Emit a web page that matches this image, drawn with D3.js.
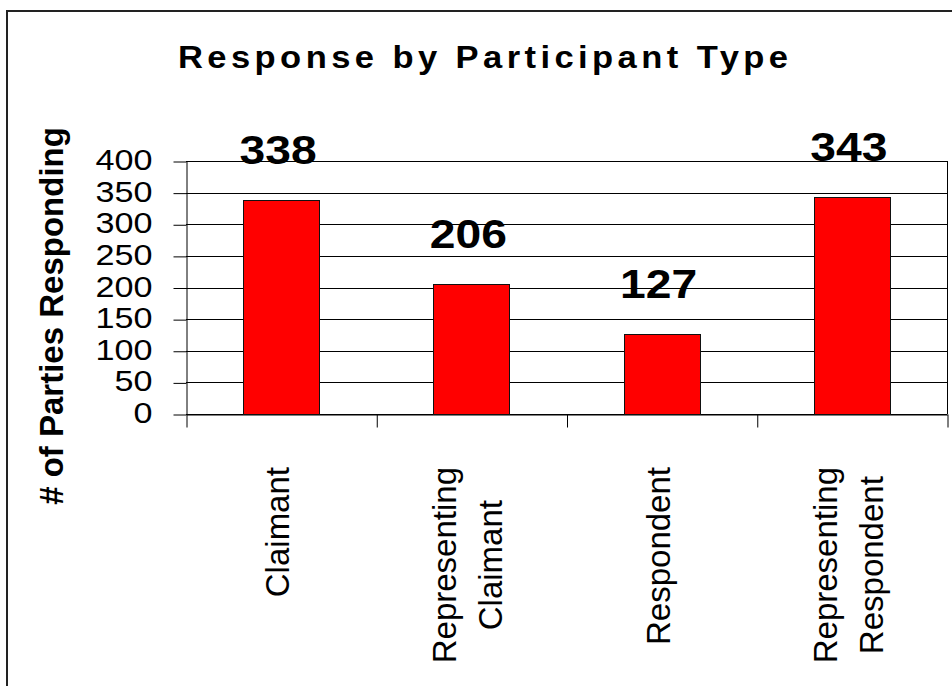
<!DOCTYPE html>
<html>
<head>
<meta charset="utf-8">
<script src="https://cdn.jsdelivr.net/npm/d3@7"></script>
<style>
  body { margin: 0; background: #fff; }
  text { font-family: "Liberation Sans", Arial, sans-serif; fill: #000; }
</style>
</head>
<body>
<div id="chart"></div>
<script>
// data
const categories = [["Claimant"], ["Representing", "Claimant"], ["Respondent"], ["Representing", "Respondent"]];
const values = [338, 206, 127, 343];
const yTicks = [0, 50, 100, 150, 200, 250, 300, 350, 400];

const W = 952, H = 686;
const plot = { left: 186, right: 947, top: 161, bottom: 414 };

const svg = d3.select("#chart")
    .append("svg")
    .attr("width", W)
    .attr("height", H);

// chart frame (runs off the right / bottom of the picture)
svg.append("rect")
    .attr("x", 7).attr("y", 11)
    .attr("width", 1000).attr("height", 1000)
    .attr("fill", "none")
    .attr("stroke", "#222")
    .attr("stroke-width", 2);

let y = d3.scaleLinear()
    .domain([0, 400])
    .range([plot.bottom, plot.top]);

let x = d3.scaleBand()
    .domain(d3.range(values.length))
    .range([plot.left, plot.right]);

// category boundaries for the tick marks
let xEdge = d3.scaleLinear()
    .domain([0, values.length])
    .range([plot.left, plot.right]);

// title (glyphs a bit wide, letters spread out)
const titleStretch = 1.08;
svg.append("text")
    .attr("transform", "translate(178,68) scale(" + titleStretch + ",1)")
    .attr("font-size", 32)
    .attr("font-weight", "bold")
    .attr("textLength", 610 / titleStretch)
    .attr("lengthAdjust", "spacing")
    .text("Response by Participant Type");

// y axis title
svg.append("text")
    .attr("transform", "translate(63," + 316 + ") rotate(-90)")
    .attr("text-anchor", "middle")
    .attr("font-size", 33)
    .attr("font-weight", "bold")
    .text("# of Parties Responding");

// gridlines
svg.append("g")
    .selectAll("line")
    .data(yTicks)
    .enter()
    .append("line")
    .attr("x1", plot.left)
    .attr("x2", plot.right)
    .attr("y1", d => Math.round(y(d)) + 0.5)
    .attr("y2", d => Math.round(y(d)) + 0.5)
    .attr("stroke", "#000")
    .attr("stroke-width", 1);

// y axis
let yAxis = svg.append("g")
    .attr("transform", "translate(" + (plot.left + 0.5) + ",0.5)")
    .call(d3.axisLeft(y).tickValues(yTicks).tickSize(13).tickPadding(21).tickSizeOuter(0));
yAxis.select(".domain").attr("stroke", "#000");
yAxis.selectAll(".tick line").attr("stroke", "#000");
yAxis.selectAll(".tick text")
    .attr("font-size", 29)
    .attr("font-family", "Liberation Sans, Arial, sans-serif")
    .attr("dy", 8)
    .attr("lengthAdjust", "spacingAndGlyphs")
    .attr("textLength", d => String(d).length * 19);

// category ticks (below the axis, at the category edges)
let xAxis = svg.append("g")
    .attr("transform", "translate(0.5," + (plot.bottom + 0.5) + ")")
    .call(d3.axisBottom(xEdge).tickValues(d3.range(values.length + 1)).tickSize(13).tickFormat("").tickSizeOuter(0));
xAxis.select(".domain").attr("stroke", "#000");
xAxis.selectAll(".tick line").attr("stroke", "#000");

// right edge of the plot area
svg.append("line")
    .attr("x1", plot.right + 0.5).attr("x2", plot.right + 0.5)
    .attr("y1", plot.top).attr("y2", plot.bottom)
    .attr("stroke", "#000");

// bars
const barW = x.bandwidth() * 0.4;
svg.selectAll(".bar")
    .data(values)
    .enter()
    .append("rect")
    .attr("class", "bar")
    .attr("x", (d, i) => Math.round(x(i) + (x.bandwidth() - barW) / 2) + 0.5)
    .attr("y", d => Math.round(y(d)) + 0.5)
    .attr("width", Math.round(barW))
    .attr("height", d => Math.round(y(0)) - Math.round(y(d)))
    .attr("fill", "#ff0000")
    .attr("stroke", "#111")
    .attr("stroke-width", 1);

// value labels
svg.selectAll(".label")
    .data(values)
    .enter()
    .append("text")
    .attr("class", "label")
    .attr("x", (d, i) => x(i) + x.bandwidth() / 2 - 3)
    .attr("y", d => y(d) - 36)
    .attr("text-anchor", "middle")
    .attr("font-size", 40)
    .attr("font-weight", "bold")
    .attr("lengthAdjust", "spacingAndGlyphs")
    .attr("textLength", d => String(d).length * 25.7)
    .text(d => d);

// category labels, rotated, lines centred on each other
const labelTop = 467, lineGap = 46;
categories.forEach(function (lines, i) {
    const cx = x(i) + x.bandwidth() / 2;
    const g = svg.append("g");
    const texts = lines.map(function (s) {
        return g.append("text")
            .attr("text-anchor", "middle")
            .attr("font-size", 33)
            .text(s);
    });
    const maxLen = d3.max(texts, t => t.node().getComputedTextLength());
    texts.forEach(function (t, j) {
        const bx = cx + 8 + (j - (lines.length - 1) / 2) * lineGap;
        t.attr("transform", "translate(" + bx + "," + (labelTop + maxLen / 2) + ") rotate(-90)");
    });
});
</script>
</body>
</html>
